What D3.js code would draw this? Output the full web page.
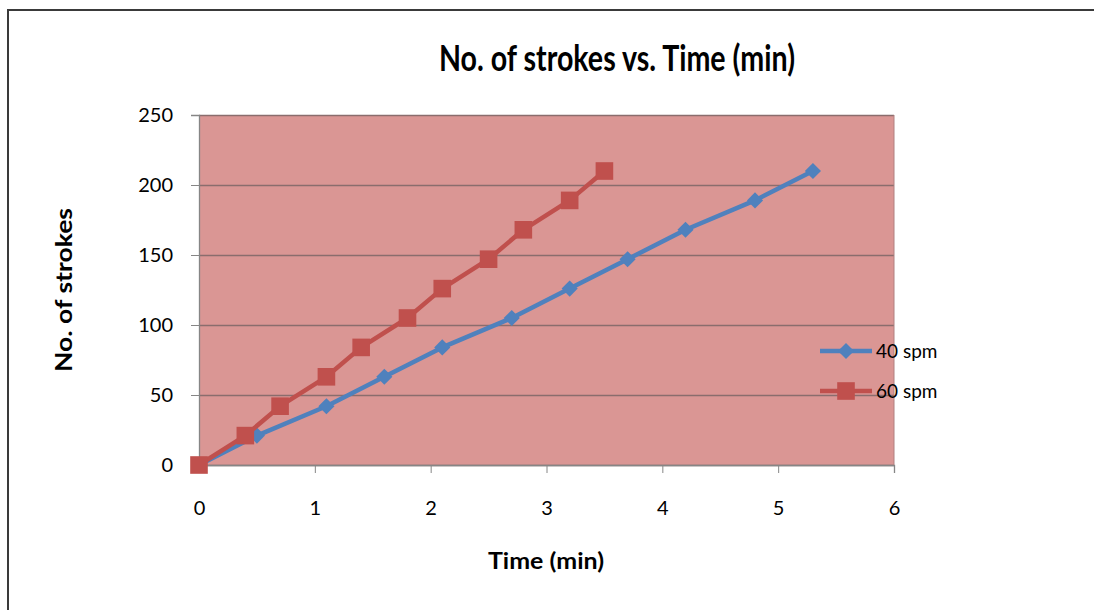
<!DOCTYPE html>
<html>
<head>
<meta charset="utf-8">
<script src="https://cdn.jsdelivr.net/npm/d3@7"></script>
<style>
  html, body { margin: 0; padding: 0; background: #ffffff; }
  svg { display: block; font-family: Lato, "Open Sans", sans-serif; }
</style>
</head>
<body>
<svg id="chart" width="1094" height="610"></svg>
<script>
// Stroke counts recorded at two stroke rates
const strokes = [0, 21, 42, 63, 84, 105, 126, 147, 168, 189, 210];
const time40 = [0, 0.5, 1.1, 1.6, 2.1, 2.7, 3.2, 3.7, 4.2, 4.8, 5.3];
const time60 = [0, 0.4, 0.7, 1.1, 1.4, 1.8, 2.1, 2.5, 2.8, 3.2, 3.5];
const seriesNames = ["40 spm", "60 spm"];
const xTicks = [0, 1, 2, 3, 4, 5, 6];
const yTicks = [0, 50, 100, 150, 200, 250];

const svg = d3.select("#chart");

// Outer chart frame (continues past the right and bottom edges)
svg.append("rect")
  .attr("x", 8).attr("y", 10)
  .attr("width", 1300).attr("height", 800)
  .attr("fill", "none").attr("stroke", "#3a3a3a").attr("stroke-width", 2);

const plot = { left: 199, right: 894, top: 115, bottom: 465 };

const x = d3.scaleLinear().domain([0, 6]).range([plot.left, plot.right]);
const y = d3.scaleLinear().domain([0, 250]).range([plot.bottom, plot.top]);

// Plot area fill
svg.append("rect")
  .attr("x", plot.left).attr("y", plot.top)
  .attr("width", plot.right - plot.left).attr("height", plot.bottom - plot.top)
  .attr("fill", "#da9694");

// Horizontal gridlines
svg.append("g")
  .attr("transform", `translate(${plot.left},0)`)
  .call(d3.axisLeft(y).tickValues(yTicks).tickSize(-(plot.right - plot.left)).tickFormat(""))
  .call(g => g.select(".domain").remove())
  .call(g => g.selectAll("line").attr("stroke", "#8a6d6d").attr("stroke-width", 1.4));

// Y axis
const yAxis = svg.append("g")
  .attr("transform", `translate(${plot.left},0)`)
  .call(d3.axisLeft(y).tickValues(yTicks).tickSize(8).tickPadding(18));
yAxis.select(".domain").attr("stroke", "#868686").attr("stroke-width", 1.3);
yAxis.selectAll("line").attr("stroke", "#868686");
yAxis.selectAll("text").attr("font-size", 20).attr("fill", "#000").attr("font-family", "Lato, sans-serif");

// X axis
const xAxis = svg.append("g")
  .attr("transform", `translate(0,${plot.bottom})`)
  .call(d3.axisBottom(x).tickValues(xTicks).tickFormat(d3.format("d")).tickSize(8).tickPadding(28));
xAxis.select(".domain").attr("stroke", "#868686").attr("stroke-width", 1.3);
xAxis.selectAll("line").attr("stroke", "#868686");
xAxis.selectAll("text").attr("font-size", 20).attr("fill", "#000").attr("font-family", "Lato, sans-serif");

// Right edge of plot area
svg.append("line")
  .attr("x1", plot.right).attr("x2", plot.right)
  .attr("y1", plot.top).attr("y2", plot.bottom)
  .attr("stroke", "#b08080").attr("stroke-width", 1);

const colors = ["#4f81bd", "#c0504d"];
const series = [
  { name: seriesNames[0], xs: time40, color: colors[0], symbol: d3.symbolSquare, size: 130, rot: 45 },
  { name: seriesNames[1], xs: time60, color: colors[1], symbol: d3.symbolSquare, size: 310, rot: 0 }
];

const line = d3.line().x(d => x(d[0])).y(d => y(d[1]));

series.forEach(s => {
  const pts = s.xs.map((t, i) => [t, strokes[i]]);
  svg.append("path")
    .datum(pts)
    .attr("d", line)
    .attr("fill", "none")
    .attr("stroke", s.color)
    .attr("stroke-width", 4.5)
    .attr("stroke-linejoin", "round");
  svg.append("g").selectAll("path")
    .data(pts)
    .join("path")
    .attr("transform", d => `translate(${x(d[0])},${y(d[1])}) rotate(${s.rot})`)
    .attr("d", d3.symbol().type(s.symbol).size(s.size))
    .attr("fill", s.color);
});

// Legend
const legend = svg.append("g");
series.forEach((s, i) => {
  const ly = 351 + i * 40;
  legend.append("line")
    .attr("x1", 820).attr("x2", 872).attr("y1", ly).attr("y2", ly)
    .attr("stroke", s.color).attr("stroke-width", 4.5);
  legend.append("path")
    .attr("transform", `translate(846,${ly}) rotate(${s.rot})`)
    .attr("d", d3.symbol().type(s.symbol).size(s.size))
    .attr("fill", s.color);
  legend.append("text")
    .attr("x", 876).attr("y", ly)
    .attr("dy", "0.36em")
    .attr("font-size", 19)
    .attr("fill", "#000")
    .text(s.name);
});

// Titles
svg.append("text")
  .attr("x", 617).attr("y", 71)
  .attr("text-anchor", "middle")
  .attr("font-size", 36).attr("font-weight", "bold")
  .attr("textLength", 356).attr("lengthAdjust", "spacingAndGlyphs")
  .text("No. of strokes vs. Time (min)");

svg.append("text")
  .attr("x", 546).attr("y", 569)
  .attr("text-anchor", "middle")
  .attr("font-size", 23).attr("font-weight", "bold")
  .attr("textLength", 116).attr("lengthAdjust", "spacingAndGlyphs")
  .text("Time (min)");

svg.append("text")
  .attr("transform", "translate(72,290) rotate(-90)")
  .attr("text-anchor", "middle")
  .attr("font-size", 23).attr("font-weight", "bold")
  .attr("textLength", 164).attr("lengthAdjust", "spacingAndGlyphs")
  .text("No. of strokes");
</script>
</body>
</html>
